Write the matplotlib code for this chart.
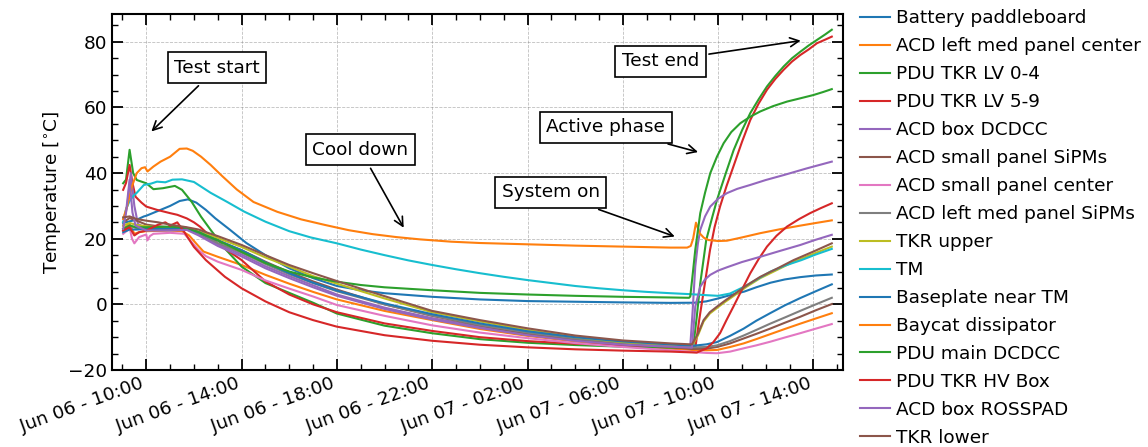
import matplotlib
matplotlib.use('Agg')
import matplotlib.pyplot as plt
import matplotlib.dates as mdates
from matplotlib.ticker import MultipleLocator
from datetime import datetime, timedelta

# hours since Jun 06 00:00, temperatures in degC
t_battery = [9.03, 9.3, 9.6, 9.9, 10.0, 10.2, 10.5, 11.0, 11.4, 11.75, 12.1, 12.5, 12.9, 13.5, 14.2, 15.0, 16.0,
             17.0, 18.0, 19.0, 20.0, 22.0, 24.0, 26.0, 28.0, 30.0, 32.0, 33.0, 33.5, 34.0, 34.5, 35.1, 35.6, 36.2,
             36.8, 37.45, 38.1, 38.77]
v_battery = [24.8, 25.3, 25.8, 26.8, 27.0, 27.6, 28.5, 30.0, 31.5, 32.0, 31.0, 28.8, 26.2, 22.8, 18.7, 15.0, 11.0,
             8.0, 5.6, 4.3, 3.4, 2.3, 1.5, 1.0, 0.8, 0.6, 0.45, 0.5, 0.9, 1.8, 2.8, 3.9, 5.2, 6.6, 7.6, 8.3, 8.8, 9.1]

t_acd_med_center = [9.03, 9.3, 9.5, 9.7, 10.0, 10.5, 11.0, 11.5, 11.8, 12.1, 12.4, 13.0, 14.0, 15.0, 16.0, 17.0,
                    18.0, 20.0, 22.0, 24.0, 26.0, 28.0, 30.0, 32.0, 32.9, 33.5, 33.95, 34.5, 35.07, 35.6, 36.18,
                    36.8, 37.44, 38.1, 38.77]
v_acd_med_center = [23.0, 24.5, 21.5, 22.0, 22.3, 22.4, 22.5, 22.3, 21.0, 18.5, 16.1, 14.5, 12.0, 9.0, 6.3, 3.8,
                    1.5, -2.0, -4.8, -7.5, -9.6, -11.3, -12.5, -13.5, -13.9, -14.0, -13.9, -13.0, -11.9, -10.6,
                    -9.1, -7.5, -5.9, -4.3, -2.7]

t_pdu_lv04 = [9.03, 9.15, 9.3, 9.45, 9.6, 10.0, 10.3, 10.7, 11.2, 11.5, 11.9, 12.3, 12.7, 13.3, 14.0, 15.0, 16.0,
              17.0, 18.0, 20.0, 22.0, 24.0, 26.0, 28.0, 30.0, 32.0, 32.95, 33.1, 33.25, 33.5, 33.75, 33.95, 34.3,
              34.65, 35.0, 35.35, 35.7, 36.05, 36.4, 36.75, 37.1, 37.45, 37.8, 38.15, 38.5, 38.77]
v_pdu_lv04 = [36.9, 38.0, 47.1, 40.0, 37.9, 36.9, 35.1, 35.4, 36.1, 34.9, 31.3, 26.7, 22.7, 17.0, 11.5, 6.5, 3.5,
              0.5, -2.8, -6.5, -8.8, -10.6, -11.7, -12.4, -12.9, -13.2, -13.3, -4.0, 6.4, 19.6, 26.5, 31.8, 39.5,
              47.0, 53.0, 58.3, 62.5, 66.4, 69.6, 72.5, 75.0, 77.0, 78.9, 80.6, 82.3, 83.7]

t_pdu_lv59 = [9.03, 9.15, 9.3, 9.42, 9.55, 9.8, 10.0, 10.45, 11.0, 11.3, 11.7, 12.0, 12.25, 12.5, 12.7, 13.0, 13.5,
              14.0, 15.0, 16.0, 17.0, 18.0, 20.0, 22.0, 24.0, 26.0, 28.0, 30.0, 32.0, 33.05, 33.2, 33.38, 33.66,
              33.85, 34.08, 34.35, 34.64, 35.0, 35.35, 35.7, 36.05, 36.4, 36.75, 37.1, 37.45, 37.8, 38.15, 38.5,
              38.77]
v_pdu_lv59 = [34.9, 37.0, 42.5, 37.0, 32.8, 31.0, 29.8, 28.8, 27.8, 27.3, 26.2, 25.0, 23.7, 22.0, 20.6, 18.5, 16.0,
              13.5, 7.0, 3.0, 0.0, -2.4, -5.8, -8.1, -10.0, -11.2, -12.0, -12.5, -12.8, -12.9, -5.0, 3.4, 16.6,
              23.5, 29.8, 36.0, 42.0, 49.5, 56.2, 61.2, 65.4, 68.7, 71.5, 74.0, 76.0, 77.7, 79.6, 80.7, 81.6]

t_acd_dcdcc = [9.03, 9.2, 9.35, 9.5, 9.65, 10.0, 10.5, 11.0, 11.7, 12.2, 12.5, 13.0, 14.0, 15.0, 16.0, 17.0, 18.0,
               20.0, 22.0, 24.0, 26.0, 28.0, 30.0, 32.0, 32.83, 32.93, 33.04, 33.15, 33.25, 33.45, 33.67, 34.0,
               34.37, 34.8, 35.35, 36.0, 36.75, 37.7, 38.77]
v_acd_dcdcc = [24.0, 30.0, 40.0, 30.0, 24.5, 23.2, 23.0, 22.9, 23.0, 21.5, 20.2, 18.3, 15.2, 11.6, 8.6, 5.8, 3.0,
               -1.0, -4.2, -6.8, -9.0, -10.7, -11.9, -12.6, -12.8, -2.0, 11.5, 18.5, 22.7, 26.8, 29.8, 32.2, 33.9,
               35.2, 36.4, 37.9, 39.4, 41.4, 43.5]

t_acd_small_sipm = [9.03, 9.3, 9.6, 10.0, 10.5, 11.0, 11.7, 12.2, 12.5, 13.0, 14.0, 15.0, 16.0, 17.0, 18.0, 20.0,
                    22.0, 24.0, 26.0, 28.0, 30.0, 32.0, 32.9, 33.5, 33.95, 34.5, 35.07, 35.6, 36.18, 36.8, 37.44,
                    38.1, 38.77]
v_acd_small_sipm = [25.0, 26.3, 25.5, 24.3, 23.8, 23.5, 23.3, 22.0, 21.2, 19.5, 16.5, 13.0, 9.8, 7.0, 4.5, 0.0,
                    -3.5, -6.4, -8.9, -10.8, -12.0, -13.0, -13.6, -13.5, -13.0, -11.9, -10.4, -9.0, -7.4, -5.6,
                    -3.8, -1.8, 0.1]

t_acd_small_center = [9.03, 9.2, 9.3, 9.4, 9.5, 9.7, 10.0, 10.05, 10.15, 10.3, 11.0, 11.6, 11.9, 12.2, 12.5, 13.0,
                      14.0, 15.0, 16.0, 17.0, 18.0, 20.0, 22.0, 24.0, 26.0, 28.0, 30.0, 32.0, 32.9, 33.5, 33.95,
                      34.5, 35.07, 35.6, 36.18, 36.8, 37.44, 38.1, 38.77]
v_acd_small_center = [21.5, 22.5, 23.5, 20.0, 18.6, 20.5, 21.3, 19.5, 20.8, 21.5, 21.8, 21.5, 19.0, 16.5, 14.7,
                      13.0, 10.5, 7.3, 4.8, 2.4, -0.2, -3.5, -6.4, -8.6, -10.3, -11.8, -13.0, -14.0, -14.5, -14.8,
                      -14.9, -14.4, -13.4, -12.5, -11.4, -10.1, -8.8, -7.4, -6.0]

t_acd_med_sipm = [9.03, 9.3, 9.6, 10.0, 10.5, 11.0, 11.7, 12.2, 12.5, 13.0, 14.0, 15.0, 16.0, 17.0, 18.0, 20.0,
                  22.0, 24.0, 26.0, 28.0, 30.0, 32.0, 32.9, 33.5, 33.95, 34.5, 35.07, 35.6, 36.18, 36.8, 37.44,
                  38.1, 38.77]
v_acd_med_sipm = [22.5, 24.0, 23.2, 22.8, 22.8, 22.8, 22.8, 21.5, 20.5, 18.7, 15.8, 12.3, 9.2, 6.5, 4.0, 0.0,
                  -3.4, -6.3, -8.6, -10.4, -11.7, -12.6, -13.1, -13.0, -12.5, -11.2, -9.5, -7.8, -5.9, -4.0, -2.0,
                  0.0, 2.0]

t_tkr_upper = [9.03, 9.3, 9.6, 10.0, 10.5, 11.0, 11.7, 12.2, 12.5, 13.0, 14.0, 15.0, 16.0, 17.0, 18.0, 20.0, 22.0,
               24.0, 26.0, 28.0, 30.0, 32.0, 32.9, 33.15, 33.39, 33.65, 33.95, 34.3, 34.64, 35.2, 35.77, 36.5, 37.17,
               38.0, 38.77]
v_tkr_upper = [24.0, 24.8, 24.2, 23.8, 23.5, 23.3, 23.0, 22.2, 21.5, 20.2, 17.5, 14.3, 11.5, 8.6, 6.3, 1.8, -2.4,
               -5.2, -7.8, -10.0, -11.5, -12.3, -12.6, -9.5, -5.2, -2.8, -1.1, 0.8, 2.5, 5.4, 8.0, 10.6, 13.0, 15.4,
               17.6]

t_tm = [9.03, 9.15, 9.3, 9.45, 9.6, 9.9, 10.2, 10.45, 10.8, 11.1, 11.5, 12.0, 12.7, 13.4, 14.1, 15.0, 16.0, 16.9,
        18.0, 19.0, 20.0, 21.0, 22.0, 23.0, 24.0, 25.0, 26.0, 27.0, 28.0, 29.0, 30.0, 31.0, 32.0, 32.85, 33.5, 34.0,
        34.5, 35.1, 35.6, 36.2, 36.8, 37.5, 38.1, 38.77]
v_tm = [25.0, 29.0, 31.5, 33.0, 34.0, 36.4, 36.8, 37.4, 37.2, 38.0, 38.1, 37.3, 34.0, 31.2, 28.3, 25.2, 22.3, 20.4,
        18.6, 16.7, 15.0, 13.4, 12.0, 10.7, 9.5, 8.4, 7.4, 6.5, 5.6, 4.9, 4.3, 3.8, 3.4, 3.1, 2.8, 2.6, 3.3, 5.4,
        7.5, 10.0, 11.8, 13.5, 15.2, 16.9]

t_baseplate = [9.03, 9.3, 9.6, 10.0, 10.5, 11.0, 11.7, 12.2, 12.5, 13.0, 14.0, 15.0, 16.0, 17.0, 18.0, 20.0, 22.0,
               24.0, 26.0, 28.0, 30.0, 32.0, 32.97, 33.5, 33.95, 34.5, 35.07, 35.6, 36.18, 36.8, 37.44, 38.1, 38.77]
v_baseplate = [22.0, 22.8, 22.8, 23.0, 23.1, 23.2, 23.0, 22.0, 21.0, 19.5, 16.5, 12.8, 9.5, 6.6, 4.2, 0.3, -3.0,
               -5.8, -8.2, -10.0, -11.3, -12.2, -12.6, -12.2, -11.5, -9.6, -7.4, -5.0, -2.7, -0.3, 1.9, 4.0, 6.1]

t_baycat = [9.03, 9.2, 9.4, 9.6, 9.8, 9.95, 10.05, 10.3, 10.6, 11.0, 11.4, 11.7, 11.95, 12.3, 12.7, 13.2, 13.8,
            14.5, 15.5, 16.5, 17.5, 18.5, 19.5, 20.5, 21.5, 22.8, 24.0, 26.0, 28.0, 30.0, 32.0, 32.7, 32.85, 32.95,
            33.07, 33.22, 33.4, 33.6, 34.0, 34.37, 35.0, 35.77, 36.6, 37.45, 38.1, 38.77]
v_baycat = [26.0, 30.0, 36.0, 40.0, 41.5, 41.8, 40.5, 42.0, 43.5, 45.0, 47.4, 47.5, 46.8, 45.0, 42.5, 39.0, 35.0,
            31.2, 28.2, 25.9, 24.2, 22.6, 21.4, 20.5, 19.8, 19.1, 18.7, 18.3, 17.9, 17.6, 17.3, 17.3, 17.8, 20.0,
            24.9, 21.7, 20.3, 19.6, 19.3, 19.4, 20.4, 21.7, 22.9, 24.0, 24.8, 25.6]

t_pdu_main = [9.03, 9.3, 9.6, 10.0, 10.5, 11.0, 11.7, 12.2, 12.5, 13.0, 14.0, 15.0, 16.0, 17.0, 18.0, 19.0, 20.0,
              22.0, 24.0, 26.0, 28.0, 30.0, 32.0, 32.78, 32.83, 32.93, 33.04, 33.15, 33.25, 33.45, 33.67, 33.95,
              34.23, 34.55, 34.93, 35.35, 35.77, 36.3, 36.89, 37.45, 38.0, 38.4, 38.77]
v_pdu_main = [23.0, 24.0, 23.5, 23.5, 23.6, 23.7, 23.3, 22.0, 21.0, 19.5, 16.0, 12.6, 10.0, 8.2, 6.9, 5.9, 5.2, 4.3,
              3.5, 3.0, 2.6, 2.3, 2.1, 2.0, 2.4, 9.0, 16.6, 22.5, 27.8, 34.0, 40.0, 45.0, 49.1, 52.5, 55.2, 57.2,
              58.8, 60.4, 61.8, 62.8, 63.8, 64.7, 65.6]

t_pdu_hv = [9.03, 9.3, 9.5, 9.7, 10.0, 10.5, 10.8, 11.0, 11.3, 11.6, 12.0, 12.5, 13.3, 14.0, 15.0, 16.0, 17.0, 18.0,
            20.0, 22.0, 24.0, 26.0, 28.0, 30.0, 32.0, 33.1, 33.52, 33.8, 34.08, 34.35, 34.64, 35.0, 35.35, 35.7,
            36.05, 36.45, 36.89, 37.4, 37.86, 38.3, 38.77]
v_pdu_hv = [22.5, 23.5, 21.0, 22.0, 22.5, 24.3, 25.0, 24.0, 25.0, 22.0, 17.5, 13.5, 8.4, 4.9, 0.9, -2.4, -4.8,
            -6.8, -9.4, -11.1, -12.3, -13.1, -13.7, -14.1, -14.4, -14.7, -13.4, -11.5, -8.8, -4.8, -0.7, 4.5, 9.5,
            13.8, 17.6, 20.9, 23.7, 26.0, 27.8, 29.3, 30.8]

t_acd_rosspad = [9.03, 9.15, 9.3, 9.42, 9.55, 10.0, 10.5, 11.0, 11.7, 12.2, 12.5, 13.0, 14.0, 15.0, 16.0, 17.0,
                 18.0, 20.0, 22.0, 24.0, 26.0, 28.0, 30.0, 32.0, 32.9, 33.04, 33.25, 33.45, 33.67, 34.0, 34.37,
                 35.0, 35.77, 36.6, 37.45, 38.1, 38.77]
v_acd_rosspad = [23.0, 28.0, 38.0, 28.0, 24.0, 22.5, 22.5, 22.5, 22.7, 21.0, 19.8, 17.8, 14.6, 11.0, 8.0, 5.2, 2.6,
                 -1.4, -4.6, -7.2, -9.4, -11.1, -12.3, -12.9, -13.2, -0.7, 5.4, 7.6, 9.0, 10.3, 11.3, 12.9, 14.5,
                 16.3, 18.1, 19.7, 21.2]

t_tkr_lower = [9.03, 9.3, 9.6, 10.0, 10.5, 11.0, 11.7, 12.2, 12.5, 13.0, 14.0, 15.0, 16.0, 17.0, 18.0, 20.0, 22.0,
               24.0, 26.0, 28.0, 30.0, 32.0, 32.9, 33.15, 33.39, 33.65, 33.95, 34.3, 34.64, 35.2, 35.77, 36.5, 37.17,
               38.0, 38.77]
v_tkr_lower = [26.5, 26.8, 26.0, 25.5, 25.0, 24.3, 23.5, 22.8, 22.0, 20.8, 18.1, 15.0, 12.0, 9.5, 7.1, 2.5, -2.0,
               -4.8, -7.3, -9.5, -11.0, -11.9, -12.2, -9.0, -4.8, -2.4, -0.7, 1.2, 2.9, 5.8, 8.4, 11.0, 13.5, 16.1,
               18.6]

series = [
    ('Battery paddleboard', t_battery, v_battery),
    ('ACD left med panel center', t_acd_med_center, v_acd_med_center),
    ('PDU TKR LV 0-4', t_pdu_lv04, v_pdu_lv04),
    ('PDU TKR LV 5-9', t_pdu_lv59, v_pdu_lv59),
    ('ACD box DCDCC', t_acd_dcdcc, v_acd_dcdcc),
    ('ACD small panel SiPMs', t_acd_small_sipm, v_acd_small_sipm),
    ('ACD small panel center', t_acd_small_center, v_acd_small_center),
    ('ACD left med panel SiPMs', t_acd_med_sipm, v_acd_med_sipm),
    ('TKR upper', t_tkr_upper, v_tkr_upper),
    ('TM', t_tm, v_tm),
    ('Baseplate near TM', t_baseplate, v_baseplate),
    ('Baycat dissipator', t_baycat, v_baycat),
    ('PDU main DCDCC', t_pdu_main, v_pdu_main),
    ('PDU TKR HV Box', t_pdu_hv, v_pdu_hv),
    ('ACD box ROSSPAD', t_acd_rosspad, v_acd_rosspad),
    ('TKR lower', t_tkr_lower, v_tkr_lower),
]

# (text, arrow tip [h, degC], text centre [h, degC])
notes = [
    ('Test start', (10.13, 52.1), (12.97, 72.1)),
    ('Cool down', (20.86, 22.6), (18.98, 47.1)),
    ('System on', (32.29, 20.4), (26.98, 34.1)),
    ('Active phase', (33.27, 46.2), (29.28, 54.0)),
    ('Test end', (37.58, 80.5), (31.58, 74.1)),
]

t0 = datetime(2023, 6, 6)


def to_time(hours):
    return [t0 + timedelta(hours=h) for h in hours]


fs = 13.3
plt.rcParams['font.size'] = fs

fig = plt.figure(figsize=(11.48, 4.47), dpi=100)
ax = fig.add_axes([0.0978, 0.1723, 0.6361, 0.7957])

for label, t, v in series:
    ax.plot(to_time(t), v, lw=1.5, label=label)

for text, tip, pos in notes:
    ax.annotate(text, xy=(to_time([tip[0]])[0], tip[1]), xytext=(to_time([pos[0]])[0], pos[1]),
                ha='center', va='center', fontsize=fs, zorder=10,
                bbox=dict(boxstyle='square,pad=0.35', fc='white', ec='black', lw=1.2),
                arrowprops=dict(arrowstyle='->', color='black', lw=1.2, mutation_scale=16))

ax.set_xlim(to_time([8.573])[0], to_time([39.22])[0])
ax.set_ylim(-20, 88.4)
ax.xaxis.set_major_locator(mdates.HourLocator(byhour=range(2, 24, 4)))
ax.xaxis.set_minor_locator(mdates.HourLocator())
ax.xaxis.set_major_formatter(mdates.DateFormatter('%b %d - %H:%M'))
ax.yaxis.set_minor_locator(MultipleLocator(5))

ax.tick_params(which='both', direction='in', top=True, right=True, labelsize=fs)
ax.tick_params(which='major', length=8, width=1.3)
ax.tick_params(which='minor', length=4.5, width=1.0)
for lab in ax.get_xticklabels():
    lab.set_rotation(20)
    lab.set_ha('right')
for s in ax.spines.values():
    s.set_linewidth(1.5)

ax.grid(True, which='major', ls='--', lw=0.6, color='gray', alpha=0.5)
ax.set_ylabel('Temperature [$^{\\circ}$C]', fontsize=fs)

ax.legend(loc='upper left', bbox_to_anchor=(1.014, 1.035), borderaxespad=0, frameon=False,
          fontsize=fs, handlelength=1.6, handletextpad=0.35, labelspacing=0.54)

fig.savefig('out.png', dpi=100)
plt.close(fig)
